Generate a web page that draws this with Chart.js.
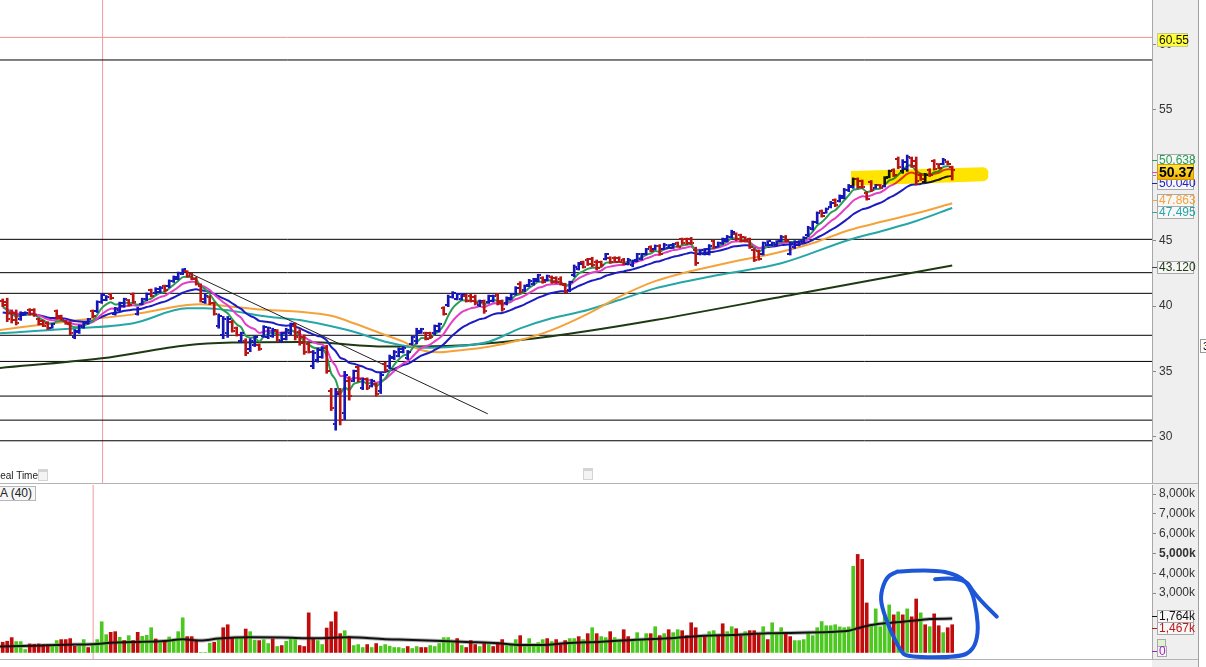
<!DOCTYPE html>
<html>
<head>
<meta charset="utf-8">
<title>Price and volume</title>
<script src="https://cdn.jsdelivr.net/npm/chart.js@4.4.1/dist/chart.umd.min.js"></script>
<style>
  html, body { margin: 0; padding: 0; }
  body { width: 1206px; height: 667px; overflow: hidden; position: relative; background: #fff;
         font-family: "Liberation Sans", Arial, sans-serif; }
  #axisStrip { position: absolute; left: 1152px; top: 0; width: 46px; height: 667px; background: #efefef; }
  #sideBorder { position: absolute; left: 1198px; top: 0; width: 1px; height: 667px; background: #a0a0a0; }
  .sep { position: absolute; left: 0; width: 1198px; height: 1px; background: #b4b4b4; }
  canvas { position: absolute; left: 0; }
  #priceCanvas { top: 0; }
  #volCanvas { top: 484px; }
  #realTime { position: absolute; left: -7px; top: 470px; font-size: 10px; color: #222; }
  #maTag { position: absolute; left: -14px; top: 486px; font-size: 12px; line-height: 13px; padding: 0 3px;
           border: 1px solid #b8b8b8; background: #f4f6f8; color: #222; }
  .cal { position: absolute; width: 8px; height: 8px; border: 1px solid #d4d4d4; border-top: 3px solid #d4d4d4; background: #f4f4f4; }
  #sideTag { position: absolute; left: 1200px; top: 339px; font-size: 11px; line-height: 12px; border: 1px solid #999; padding: 0 2px; background: #fff; }
</style>
</head>
<body>
<div id="axisStrip"></div>
<div id="sideBorder"></div>
<div class="sep" style="top:483px"></div>
<div class="sep" style="top:659px"></div>
<canvas id="priceCanvas" width="1198" height="483"></canvas>
<canvas id="volCanvas" width="1198" height="183"></canvas>
<div id="realTime">Real Time</div>
<div class="cal" style="left:38px;top:469px"></div>
<div class="cal" style="left:583px;top:468px"></div>
<div id="maTag">MA (40)</div>
<div id="sideTag">3</div>
<script>
// ---- price bars (one value per trading day) ----
const opens = [
  40.4,40.3,39.5,39.5,39.0,39.35,39.7,39.7,39.0,38.85,
  38.7,38.35,39.6,39.25,38.85,38.7,37.6,38.0,38.4,38.7,
  39.6,39.6,40.3,40.45,40.9,39.4,39.7,40.0,40.45,40.9,
  39.4,40.15,40.5,41.2,41.0,41.1,41.5,41.5,41.9,42.1,
  42.45,42.65,42.45,42.1,41.5,40.3,40.7,40.2,38.5,37.8,
  37.9,38.8,38.3,37.3,37.3,36.7,37.0,37.0,37.7,37.6,
  37.7,38.1,37.3,37.5,37.9,38.5,38.0,37.6,37.1,35.4,
  35.9,36.1,36.8,33.5,31.0,33.4,31.8,34.3,34.3,35.3,
  33.7,34.4,33.9,34.0,33.5,35.6,35.4,36.0,36.2,36.5,
  36.0,37.1,37.3,37.95,37.9,37.9,37.9,38.1,39.85,40.1,
  40.7,40.55,40.55,40.8,40.8,40.7,40.05,40.3,40.3,40.4,
  40.85,40.35,40.2,40.55,40.95,41.7,41.2,41.6,41.7,41.95,
  42.15,42.0,42.2,42.15,42.1,41.6,41.2,42.4,42.85,43.35,
  43.55,43.6,43.4,43.35,43.6,43.7,43.7,43.7,43.55,43.2,
  43.1,43.5,43.6,44.0,44.55,44.35,44.6,44.35,44.45,44.45,
  44.85,45.1,45.1,45.15,44.3,43.95,44.0,44.0,44.95,44.55,
  44.8,45.0,45.3,45.5,45.4,45.25,45.1,44.25,44.2,44.0,
  44.65,44.65,44.65,45.0,45.3,44.0,44.5,44.65,44.9,45.4,
  45.9,46.4,47.25,47.15,47.6,48.1,48.05,48.3,48.85,49.1,
  49.7,49.55,48.65,49.5,49.05,49.25,49.2,49.9,50.4,51.25,
  50.3,50.5,51.3,51.1,50.05,49.5,50.4,51.1,50.85,50.85,
  51.05,50.6
];
const highs = [
  40.54,40.6,39.7,39.7,39.56,39.56,39.8,39.8,39.06,38.93,
  38.8,38.67,39.7,39.3,38.9,38.8,38.2,38.55,38.8,39.06,
  39.7,40.4,40.97,40.8,40.97,39.9,40.3,40.6,40.5,41.0,
  39.9,40.6,41.0,41.3,41.4,41.5,41.6,42.0,42.3,42.6,
  42.85,42.7,42.5,42.2,41.7,40.9,40.8,40.3,39.4,39.2,
  39.2,38.9,38.4,38.0,37.5,37.5,37.7,37.1,38.5,38.4,
  38.3,38.2,38.0,38.3,38.7,38.7,38.2,37.8,37.2,36.6,
  36.8,36.9,37.0,33.7,33.7,33.7,35.0,34.6,35.1,35.4,
  34.5,34.5,34.4,34.1,34.9,35.7,36.25,36.6,36.8,36.9,
  36.6,37.7,38.3,38.3,38.0,38.0,38.55,38.7,39.95,40.84,
  41.1,40.97,40.97,40.9,40.9,40.84,40.46,40.46,40.84,40.84,
  40.97,40.46,40.7,40.97,41.48,41.86,41.61,42.04,42.12,42.43,
  42.24,42.37,42.3,42.24,42.24,41.74,41.9,43.14,43.34,43.44,
  43.65,43.73,43.52,43.44,44.03,43.77,43.77,43.77,43.65,43.65,
  43.52,44.03,44.03,44.41,44.61,44.67,44.7,44.8,44.7,44.8,
  44.9,45.2,45.2,45.25,44.5,44.3,44.4,44.7,45.05,44.9,
  45.2,45.4,45.8,45.6,45.5,45.3,45.2,44.4,44.3,44.9,
  45.0,44.9,45.0,45.4,45.4,44.9,45.0,45.0,45.3,46.1,
  46.5,47.2,47.35,47.5,48.0,48.2,48.5,49.0,49.3,49.8,
  49.8,49.64,48.75,49.6,49.3,49.3,49.9,50.4,50.5,51.4,
  51.2,51.55,51.4,51.4,50.15,50.15,50.5,51.2,50.9,51.3,
  51.1,50.7
];
const lows = [
  39.95,38.8,38.7,38.55,38.9,39.3,39.3,39.2,38.55,38.42,
  38.2,38.3,39.0,38.9,38.6,37.8,37.5,37.9,38.3,38.6,
  39.1,39.5,40.2,40.4,40.5,39.3,39.6,39.9,40.0,40.2,
  39.3,40.1,40.4,40.7,40.9,41.0,41.1,41.4,41.8,42.0,
  42.4,42.2,42.0,41.6,40.3,40.2,40.1,39.3,38.3,37.5,
  37.6,38.0,37.7,37.2,36.2,36.5,36.9,36.6,37.6,37.5,
  37.6,37.3,37.2,37.4,37.8,37.4,37.0,36.3,36.4,35.2,
  35.7,36.0,34.85,32.0,30.5,30.9,31.3,32.8,34.2,34.2,
  33.6,33.6,33.8,33.1,33.3,35.0,35.2,35.9,36.1,36.4,
  35.9,37.0,37.1,37.9,37.4,37.5,37.8,38.0,39.3,39.95,
  40.6,40.46,40.46,40.3,40.3,40.08,39.95,39.44,40.2,40.3,
  40.08,39.6,40.08,40.46,40.84,40.97,41.1,41.48,41.6,41.86,
  41.74,41.9,41.74,41.74,41.6,41.0,41.1,42.24,42.75,42.9,
  43.1,43.0,42.75,43.0,43.52,43.27,43.34,43.34,43.14,43.14,
  43.0,43.39,43.52,43.9,44.15,44.29,43.9,44.3,44.4,44.4,
  44.5,44.7,44.7,44.7,43.1,43.9,43.9,43.9,44.4,44.5,
  44.7,44.9,45.2,45.0,44.9,44.9,44.4,43.4,43.5,43.9,
  44.6,44.6,44.6,44.9,44.9,43.9,44.4,44.6,44.8,45.3,
  45.8,46.3,46.8,47.1,47.5,47.6,47.95,48.2,48.75,49.0,
  49.0,49.0,48.1,48.75,49.0,49.0,49.1,49.8,49.9,50.5,
  50.15,50.3,50.6,49.26,49.6,49.4,49.9,50.4,50.5,50.8,
  50.8,49.64
];
const closes = [
  40.05,39.0,38.9,38.7,39.45,39.5,39.4,39.3,38.65,38.5,
  38.3,38.6,39.1,38.95,38.65,37.95,38.1,38.45,38.7,39.0,
  39.2,40.3,40.85,40.7,40.6,39.8,40.2,40.5,40.1,40.3,
  39.8,40.5,40.9,40.8,41.3,41.4,41.2,41.9,42.2,42.5,
  42.8,42.3,42.1,41.7,40.5,40.8,40.2,39.4,39.2,39.0,
  39.0,38.1,37.8,37.9,36.4,37.3,37.6,36.7,38.4,38.3,
  38.2,37.4,37.9,38.2,38.6,37.6,37.2,36.5,36.5,36.4,
  36.6,36.8,35.0,32.2,33.3,31.3,34.7,33.1,35.0,34.4,
  34.4,33.7,34.3,33.3,34.7,35.1,36.1,36.5,36.7,36.8,
  36.5,37.6,38.1,38.25,37.5,37.6,38.45,38.6,39.4,40.7,
  41.0,40.9,40.9,40.4,40.4,40.2,40.4,39.6,40.75,40.75,
  40.2,39.75,40.6,40.9,41.4,41.1,41.5,41.95,42.05,42.35,
  41.8,42.3,41.8,41.8,41.7,41.1,41.8,43.0,43.25,43.0,
  43.2,43.1,42.9,43.1,43.95,43.35,43.4,43.4,43.2,43.55,
  43.45,43.95,43.95,44.35,44.2,44.6,44.0,44.7,44.65,44.75,
  44.55,44.8,44.8,44.8,43.3,44.25,44.35,44.6,44.5,44.85,
  45.1,45.3,45.7,45.1,45.0,44.95,44.5,43.55,43.6,44.8,
  44.95,44.85,44.95,45.3,45.0,44.8,44.9,44.95,45.2,46.0,
  46.4,47.1,46.9,47.45,47.9,47.7,48.4,48.9,49.2,49.7,
  49.1,49.1,48.2,48.9,49.25,49.05,49.8,50.3,50.0,50.65,
  51.05,51.4,50.7,49.6,49.7,50.05,50.0,50.5,50.55,51.2,
  50.85,50.37
];

// ---- volume, in thousands; 1 = green (up) bar, 0 = red bar ----
const volumes = [
  517,567,750,550,550,150,433,417,433,400,
  383,350,600,650,650,700,317,350,650,250,
  450,650,1550,900,1017,1050,767,600,850,600,
  1017,817,867,1250,683,567,567,783,650,1050,
  1750,800,800,633,0,0,467,517,683,1250,
  1400,733,733,733,1183,1050,617,600,650,450,
  683,300,350,567,700,700,350,300,2000,683,
  600,400,1233,1550,2050,950,1100,800,350,400,
  250,400,250,450,317,400,317,250,250,200,
  300,200,300,250,250,350,300,450,750,750,
  500,700,350,250,600,400,300,450,400,300,
  500,650,350,450,650,850,350,700,400,500,
  650,700,550,650,400,600,700,700,800,650,
  950,1250,950,800,750,1050,750,650,1150,800,
  650,1000,650,950,950,1300,850,950,1150,1000,
  1150,1100,850,1500,1250,800,800,1050,1100,850,
  1450,1050,1300,1200,850,1050,1100,1100,900,1300,
  650,1500,950,1250,950,800,600,600,650,1000,
  850,1250,1560,1350,1350,1400,1290,1250,1290,4350,
  4950,4700,2500,1350,2200,1300,1800,2400,1900,2050,
  1900,2200,1800,2700,2000,1400,1300,1950,1350,1000,
  1250,1400
];
const volumeUp = [
  0,0,0,1,1,1,0,0,0,0, 0,1,1,0,0,0,0,1,1,0, 1,1,1,1,0,0,1,0,1,0,
  0,1,1,1,0,1,0,1,1,1, 1,0,0,0,1,1,1,0,1,0, 0,0,1,1,0,1,1,0,1,1,
  0,1,0,1,1,1,0,0,0,0, 1,1,0,0,0,0,1,0,1,1, 1,0,1,0,1,1,1,1,1,1,
  0,1,1,0,0,1,1,1,1,1, 1,0,1,0,0,0,1,0,1,0, 0,0,1,1,1,0,1,1,1,1,
  1,0,1,0,0,0,1,1,0,1, 0,1,0,1,1,0,1,1,0,0, 1,1,1,1,0,1,0,1,0,1,
  1,0,0,0,0,1,0,1,1,0, 0,1,1,0,0,1,0,0,0,1, 0,1,1,1,0,0,1,1,1,1,
  1,1,1,1,1,1,1,1,1,1, 0,0,0,1,1,1,1,1,0,1, 0,1,0,0,1,0,1,0,0,1,
  0,0
];

// ---- slower moving averages (bar index / value) ----
const orangeIdx = [-1,14,29,41,44,51,59,66,73,78,85,89,93,97,100,108,115,122,130,137,145,159,173,181,188,196,203,211];
const orangeVal = [38.15,38.8,39.36,40.07,40.13,39.95,39.69,39.57,39.25,38.68,37.78,37.27,36.63,36.46,36.56,36.89,37.4,38.16,39.4,40.7,41.9,43.14,44.15,44.92,45.8,46.5,47.09,47.86];
const tealIdx = [-1,14,29,41,45,51,59,66,71,78,85,93,100,108,115,122,130,137,145,159,173,188,196,203,211];
const tealVal = [37.9,38.24,38.68,39.82,39.82,39.62,39.18,38.93,38.6,38.03,37.27,36.81,36.89,37.27,38.29,39.06,39.69,40.46,41.35,42.37,43.27,45.05,45.8,46.5,47.5];
const longIdx = [-1,22,41,51,66,71,85,100,115,130,145,177,211];
const longVal = [35.25,36.0,37.0,37.2,37.25,37.2,36.9,36.96,37.4,38.09,38.93,40.95,43.1];
const volAvgIdx = [-1,7,14,20,24,29,36,40,44,48,55,62,70,77,85,88,96,103,110,115,120,125,133,140,148,155,162,170,177,185,188,190,192,196,200,204,206,211];
const volAvgVal = [300,345,395,410,495,530,580,665,600,700,765,750,715,765,665,650,597,530,463,380,380,463,547,631,715,833,883,967,1000,1050,1100,1220,1340,1470,1556,1640,1690,1710];

// ---- drawn levels and marks ----
const levelLines = [58.82, 45.1, 42.55, 40.97, 37.76, 35.76, 33.11, 31.27, 29.69];
const alertLevel = 60.55;
const trendFrom = [40.07, 42.75];
const trendTo = [107.8, 31.75];
const priceCursorIdx = 22.2;
const volCursorIdx = 20.1;
const priceTicks = [30, 35, 40, 45, 50, 55, 60];
const volTicks = [3000, 4000, 5000, 6000, 7000, 8000];

const X_MIN = -0.6, X_MAX = 255.4;
const FONT = '"Liberation Sans", Arial, sans-serif';
Chart.defaults.font.family = FONT;
Chart.defaults.animation = false;

const C = {
  upBar: '#1717b8', downBar: '#b81414',
  fast: '#2a9d55', mid: '#e23fc6', slow: '#1c1cc0',
  orange: '#f5a23a', teal: '#26a6a6', long: '#1d3a12',
  volUp: '#4cc820', volDown: '#c00c0c'
};

function ema(values, period, seed) {
  const k = 2 / (period + 1);
  let prev = seed;
  return values.map((v, i) => {
    prev = i === 0 ? seed : prev + k * (v - prev);
    return { x: i, y: prev };
  });
}
const pairs = (idx, val) => idx.map((x, i) => ({ x, y: val[i] }));

function tickImage(color, left) {
  const c = document.createElement('canvas');
  c.width = 6; c.height = 2;
  const g = c.getContext('2d');
  g.fillStyle = color;
  g.fillRect(left ? 0 : 4, 0, 2, 2);
  return c;
}
const openUp = tickImage(C.upBar, true), openDown = tickImage(C.downBar, true);
const closeUp = tickImage(C.upBar, false), closeDown = tickImage(C.downBar, false);
const isUp = closes.map((c, i) => c >= opens[i]);

function lineSet(data, color, width, order, extra) {
  return Object.assign({ type: 'line', data, borderColor: color, borderWidth: width,
    pointRadius: 0, fill: false, order }, extra || {});
}

function axisY(min, max, tickList, labelFn, fontFn) {
  return {
    position: 'right', min, max,
    afterFit(s) { s.width = 46; s.paddingTop = 0; s.paddingBottom = 0; },
    afterBuildTicks(s) { s.ticks = tickList.map(v => ({ value: v })); },
    ticks: { color: '#333', padding: 3, callback: labelFn, font: fontFn },
    grid: { drawOnChartArea: false, drawTicks: true, tickLength: 4, tickColor: '#888' },
    border: { display: true, color: '#a8a8a8' }
  };
}

function drawTags(chart, tags) {
  const ctx = chart.ctx, ys = chart.scales.y, left = chart.chartArea.right;
  ctx.save();
  tags.forEach(t => {
    const cy = Math.round(ys.getPixelForValue(t.value) + (t.dy || 0));
    const h = t.h || 12, w = t.w || 36, x = left + 5, y = cy - Math.round(h / 2);
    if (t.dash) { ctx.fillStyle = t.dash; ctx.fillRect(left, cy, 5, 1); }
    if (t.grad) {
      const g = ctx.createLinearGradient(0, y, 0, y + h);
      g.addColorStop(0, '#ffe94d'); g.addColorStop(1, '#f3b400');
      ctx.fillStyle = g;
    } else {
      ctx.fillStyle = t.bg || '#f7f7f7';
    }
    ctx.fillRect(x + 0.5, y + 0.5, w, h);
    ctx.strokeStyle = t.border || '#a9a9a9';
    ctx.lineWidth = 1;
    ctx.strokeRect(x + 0.5, y + 0.5, w, h);
    if (t.text) {
      ctx.fillStyle = t.fg;
      ctx.font = (t.bold ? 'bold ' : '') + (t.size || 12) + 'px ' + FONT;
      ctx.textBaseline = 'middle';
      ctx.textAlign = 'left';
      ctx.fillText(t.text, x + 2, cy + 1);
    }
  });
  ctx.restore();
}

function smoothStroke(ctx, pts) {
  ctx.beginPath();
  ctx.moveTo(pts[0][0], pts[0][1]);
  for (let i = 1; i < pts.length - 1; i++) {
    const mx = (pts[i][0] + pts[i + 1][0]) / 2, my = (pts[i][1] + pts[i + 1][1]) / 2;
    ctx.quadraticCurveTo(pts[i][0], pts[i][1], mx, my);
  }
  const last = pts[pts.length - 1];
  ctx.lineTo(last[0], last[1]);
  ctx.stroke();
}

// ---------- price chart ----------
const priceTags = [
  { value: 60.55, text: '60.55', fg: '#111', bg: '#ffff3a', border: '#c9c98a', dy: 2.5, w: 30, h: 13 },
  { value: 50.638, text: '50.638', fg: C.fast, dy: -7, dash: C.fast },
  { value: 50.040, text: '50.040', fg: C.slow, dy: 8, dash: C.slow },
  { value: 50.37, text: '50.37', fg: '#000', grad: true, border: '#d49a00', bold: true, size: 14, h: 15, dy: 2, dash: C.mid },
  { value: 47.863, text: '47.863', fg: C.orange, dy: -3, dash: C.orange },
  { value: 47.495, text: '47.495', fg: C.teal, dy: 3.5, dash: C.teal },
  { value: 43.120, text: '43.120', fg: C.long, dy: 1.5, dash: '#444' }
];

const highlightBand = { x0: 188.5, x1: 219, topL: 50.33, botL: 49.2, topR: 50.62, botR: 49.55 };

const pricePlugin = {
  id: 'priceExtras',
  afterDatasetsDraw(chart) {
    const ctx = chart.ctx, xs = chart.scales.x, ys = chart.scales.y, b = highlightBand;
    const xl = xs.getPixelForValue(b.x0), xr = xs.getPixelForValue(b.x1);
    const tl = ys.getPixelForValue(b.topL), bl = ys.getPixelForValue(b.botL);
    const tr = ys.getPixelForValue(b.topR), br = ys.getPixelForValue(b.botR);
    ctx.save();
    ctx.globalCompositeOperation = 'multiply';
    ctx.fillStyle = 'rgb(255,228,0)';
    ctx.beginPath();
    ctx.moveTo(xl, tl);
    ctx.lineTo(xr - 5, tr);
    ctx.quadraticCurveTo(xr + 1, tr + 1, xr, (tr + br) / 2);
    ctx.quadraticCurveTo(xr + 1, br - 1, xr - 5, br);
    ctx.lineTo(xl, bl);
    ctx.closePath();
    ctx.fill();
    ctx.restore();
  },
  afterDraw(chart) { drawTags(chart, priceTags); }
};

const priceDatasets = [];
levelLines.forEach(v => priceDatasets.push(
  lineSet([{ x: X_MIN - 2, y: v }, { x: X_MAX + 2, y: v }], '#000', 1, 20)));
priceDatasets.push(lineSet([{ x: X_MIN - 2, y: alertLevel }, { x: X_MAX + 2, y: alertLevel }], '#f29090', 1, 20));
priceDatasets.push(lineSet([{ x: priceCursorIdx, y: 20 }, { x: priceCursorIdx, y: 70 }], '#f29a9a', 1, 20));
priceDatasets.push(lineSet(pairs(longIdx, longVal), C.long, 2, 12, { cubicInterpolationMode: 'monotone' }));
priceDatasets.push(lineSet(pairs(tealIdx, tealVal), C.teal, 2, 11, { cubicInterpolationMode: 'monotone' }));
priceDatasets.push(lineSet(pairs(orangeIdx, orangeVal), C.orange, 2, 10, { cubicInterpolationMode: 'monotone' }));
priceDatasets.push(lineSet(ema(closes, 20, 39.5), C.slow, 2, 9, { tension: 0.3 }));
priceDatasets.push(lineSet(ema(closes, 10, 39.9), C.mid, 2, 8, { tension: 0.3 }));
priceDatasets.push(lineSet(ema(closes, 5, 40.0), C.fast, 2, 7, { tension: 0.3 }));
priceDatasets.push(lineSet([{ x: trendFrom[0], y: trendFrom[1] }, { x: trendTo[0], y: trendTo[1] }], '#222', 1, 3));
priceDatasets.push({
  type: 'bar', order: 1, barThickness: 2, borderWidth: 0, grouped: false,
  data: highs.map((h, i) => ({ x: i, y: [lows[i], h] })),
  backgroundColor: isUp.map(u => u ? C.upBar : C.downBar)
});
priceDatasets.push({
  type: 'line', order: 0, showLine: false, pointRadius: 1,
  data: opens.map((o, i) => ({ x: i, y: o })),
  pointStyle: isUp.map(u => u ? openUp : openDown)
});
priceDatasets.push({
  type: 'line', order: 0, showLine: false, pointRadius: 1,
  data: closes.map((c, i) => ({ x: i, y: c })),
  pointStyle: isUp.map(u => u ? closeUp : closeDown)
});

new Chart(document.getElementById('priceCanvas'), {
  type: 'bar',
  data: { datasets: priceDatasets },
  options: {
    responsive: false, devicePixelRatio: 1, animation: false,
    layout: { padding: 0, autoPadding: false },
    plugins: { legend: { display: false }, tooltip: { enabled: false } },
    scales: {
      x: { type: 'linear', min: X_MIN, max: X_MAX, display: false, offset: false },
      y: axisY(26.46, 63.41, priceTicks, v => String(v), () => ({ size: 12 }))
    }
  },
  plugins: [pricePlugin]
});

// ---------- volume chart ----------
const volTags = [
  { value: 480, text: '', fg: '#3a3', bg: '#dff2d2', w: 8, h: 8, dy: 0 },
  { value: 1764, text: '1,764k', fg: '#111', dy: -2, dash: '#111' },
  { value: 1467, text: '1,467k', fg: '#c01818', dy: 4.6, dash: '#c01818' },
  { value: 0, text: '0', fg: '#a020c0', w: 9, h: 10, dy: -1, dash: '#a020c0' }
];

const penLoop = [[198.7,4080],[206.1,4215],[212.7,3912],[215.4,3155],[216.5,1977],[216.8,967],[215.7,126],
  [212.7,-244],[200.9,-244],[199.4,126],[197.2,1136],[195.3,2313],[195.1,2987],[196.4,3828],[198.8,4080]];
const penTail = [[207.2,3694],[213.5,3862],[216.1,2903],[220.9,1809]];

const volPlugin = {
  id: 'volExtras',
  afterDraw(chart) {
    drawTags(chart, volTags);
    const ctx = chart.ctx, xs = chart.scales.x, ys = chart.scales.y;
    const toPx = p => [xs.getPixelForValue(p[0]), ys.getPixelForValue(p[1])];
    ctx.save();
    ctx.strokeStyle = '#1e56d8';
    ctx.lineWidth = 4;
    ctx.lineCap = 'round';
    ctx.lineJoin = 'round';
    smoothStroke(ctx, penLoop.map(toPx));
    smoothStroke(ctx, penTail.map(toPx));
    ctx.restore();
  }
};

new Chart(document.getElementById('volCanvas'), {
  type: 'bar',
  data: {
    datasets: [
      lineSet([{ x: volCursorIdx, y: -1000 }, { x: volCursorIdx, y: 9000 }], '#f29a9a', 1, 20),
      lineSet(pairs(volAvgIdx, volAvgVal), 'rgba(120,120,120,0.55)', 4, 2, { cubicInterpolationMode: 'monotone' }),
      lineSet(pairs(volAvgIdx, volAvgVal), '#111', 2, 0, { cubicInterpolationMode: 'monotone' }),
      {
        type: 'bar', order: 1, barThickness: 3, borderWidth: 0, grouped: false,
        data: volumes.map((v, i) => ({ x: i, y: v })),
        backgroundColor: volumeUp.map(u => u ? C.volUp : C.volDown)
      }
    ]
  },
  options: {
    responsive: false, devicePixelRatio: 1, animation: false,
    layout: { padding: { top: 1, bottom: 8, left: 0, right: 0 }, autoPadding: false },
    plugins: { legend: { display: false }, tooltip: { enabled: false } },
    scales: {
      x: { type: 'linear', min: X_MIN, max: X_MAX, display: false, offset: false },
      y: axisY(-330, 8455, volTicks, v => v.toLocaleString('en-US') + 'k',
        c => (c.tick && c.tick.value === 5000) ? { size: 12, weight: 'bold' } : { size: 12 })
    }
  },
  plugins: [volPlugin]
});
</script>
</body>
</html>
